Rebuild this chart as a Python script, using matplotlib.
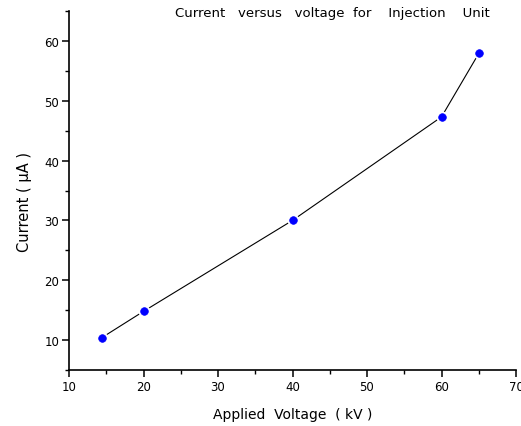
"""Current versus voltage for the injection unit."""

import matplotlib
matplotlib.use('Agg')
import matplotlib.pyplot as plt
from matplotlib.ticker import MultipleLocator

voltage = [14.4, 20.0, 40.0, 60.0, 65.0]
current = [10.4, 14.8, 30.0, 47.3, 57.9]


def main():
    """Draw the chart."""
    fig = plt.figure(figsize=(5.21, 4.27), dpi=100)
    ax = fig.add_axes([69/521, 56/427, 447/521, 359/427])

    ax.plot(voltage, current, color='black', lw=0.8, zorder=2)
    ax.plot(voltage, current, ls='none', marker='o', ms=6,
            mfc='#0000ff', mec='white', mew=2.6, zorder=3)
    ax.plot(voltage, current, ls='none', marker='o', ms=5.5,
            mfc='#0000ff', mec='#0000ff', mew=0.5, zorder=4)

    ax.set_xlim(10, 70)
    ax.set_ylim(5, 65)
    ax.xaxis.set_major_locator(MultipleLocator(10))
    ax.xaxis.set_minor_locator(MultipleLocator(5))
    ax.yaxis.set_major_locator(MultipleLocator(10))
    ax.yaxis.set_minor_locator(MultipleLocator(5))
    ax.set_yticks([10, 20, 30, 40, 50, 60])

    for side in ('top', 'right'):
        ax.spines[side].set_visible(False)
    for side in ('left', 'bottom'):
        ax.spines[side].set_linewidth(1.2)
    ax.tick_params(which='major', direction='out', length=5, width=1.1,
                   labelsize=8.5, pad=2)
    ax.tick_params(which='minor', direction='out', length=3, width=1.0)

    ax.set_xlabel('Applied  Voltage  ( kV )', fontsize=10, labelpad=10)
    ax.set_ylabel('Current ( μA )', fontsize=10.5)
    ax.yaxis.set_label_coords(-0.083, 0.47)
    fig.text(175/521, 1 - 14/427,
             'Current   versus   voltage  for    Injection    Unit',
             fontsize=9.5, va='center', ha='left')

    fig.savefig('out.png', dpi=100)


main()
